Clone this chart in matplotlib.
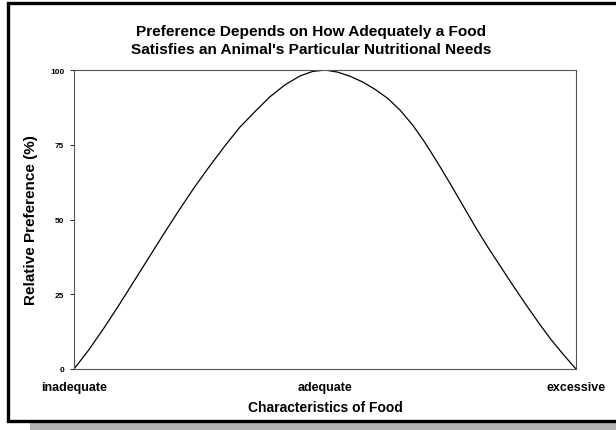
import matplotlib.pyplot as plt
from matplotlib.patches import Rectangle
from matplotlib.lines import Line2D

plt.rcParams['font.family'] = ['Liberation Sans', 'DejaVu Sans']

# points: x = position along the food scale (0..1), y = preference %
pos = [0.0, 0.03, 0.06, 0.09, 0.12, 0.15, 0.18, 0.21, 0.24, 0.27, 0.30, 0.33,
       0.36, 0.39, 0.42, 0.45, 0.475, 0.5, 0.525, 0.55, 0.575, 0.60, 0.625,
       0.65, 0.675, 0.70, 0.725, 0.75, 0.775, 0.80, 0.825, 0.85, 0.875, 0.90,
       0.925, 0.95, 0.975, 1.0]
pref = [0, 6.5, 13.8, 21.5, 29.5, 37.5, 45.5, 53.3, 60.8, 67.8, 74.5, 80.8,
        86.0, 91.0, 95.0, 98.0, 99.5, 100, 99.3, 97.9, 96.0, 93.5, 90.5,
        86.5, 81.5, 75.5, 68.8, 61.8, 54.6, 47.4, 40.6, 34.2, 27.8, 21.6,
        15.6, 9.9, 4.8, 0]

yticks = [0, 25, 50, 75, 100]
xticks = [0, 0.5, 1.0]
xlabels = ["inadequate", "adequate", "excessive"]

W, H = 616, 431
fig = plt.figure(figsize=(W / 100, H / 100), dpi=100)

# drop shadow
fig.patches.append(Rectangle((30 / W, 0), 1 - 30 / W, 7 / H, transform=fig.transFigure,
                             facecolor="#b4b4b4", edgecolor="none", zorder=0))
# outer frame: top, left, bottom only (right side is cut off)
x0, x1 = 8 / W, 1.0
yt, yb = 1 - 4 / H, 1 - 422 / H
fig.lines.append(Line2D([x1, x0, x0, x1], [yt, yt, yb, yb], transform=fig.transFigure,
                        color="black", linewidth=2.4, solid_joinstyle="miter"))

ax = fig.add_axes([74 / W, 1 - 370 / H, (576 - 74) / W, (370 - 71) / H])
ax.plot(pos, pref, color="black", linewidth=0.9)

ax.set_xlim(0, 1)
ax.set_ylim(0, 100)
ax.set_yticks(yticks)
ax.set_yticklabels([str(v) for v in yticks], fontsize=6, fontweight="bold")
ax.set_xticks(xticks)
ax.set_xticklabels(xlabels, fontsize=9, fontweight="bold")
ax.tick_params(axis="y", length=3, width=0.6, pad=4)
ax.tick_params(axis="x", length=0, pad=8.5)
for s in ax.spines.values():
    s.set_linewidth(0.8)
    s.set_color("#555555")

ax.set_ylabel("Relative Preference (%)", fontsize=11, fontweight="bold", labelpad=9)
ax.set_xlabel("Characteristics of Food", fontsize=10, fontweight="bold", labelpad=5)

fig.text(311 / W, 1 - 41 / H,
         "Preference Depends on How Adequately a Food\nSatisfies an Animal's Particular Nutritional Needs",
         ha="center", va="center", fontsize=11.1, fontweight="bold", linespacing=1.45)

fig.savefig("out.png", dpi=100)
